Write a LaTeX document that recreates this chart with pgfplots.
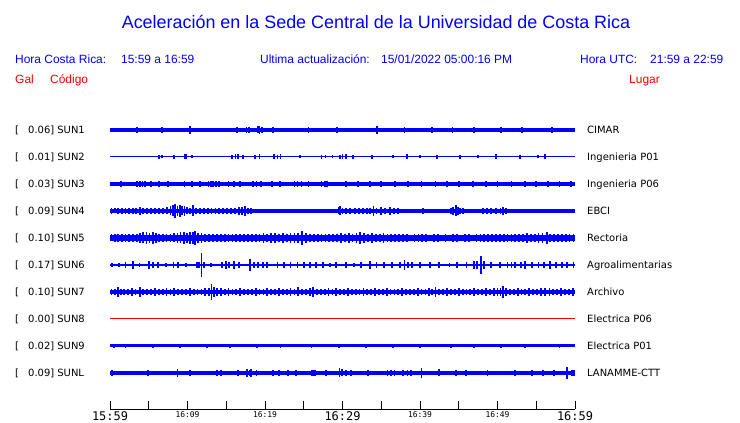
\documentclass[border=0pt]{standalone}
\usepackage{pgfplots}
\pgfplotsset{compat=1.18}
\usepackage{fontspec}
\setmainfont{Liberation Sans}
\newfontfamily\dvs{DejaVu Sans}
\newfontfamily\dvm{DejaVu Sans Mono}

\pgfplotsset{tr/.style={width=465bp, height=26bp, scale only axis, xmin=0, xmax=60, ymin=-13, ymax=13, hide axis, clip=false, anchor=west}}

\newcommand{\trace}[4]{%
\begin{axis}[tr, at={(110bp,#1bp)}]
\addplot[#3, line width=#2bp, mark=none] coordinates {(0,0) (60,0)};
\addplot[#3, draw=none, mark=none, forget plot, error bars/.cd, y dir=both, y explicit, error mark=none, error bar style={draw=#3, line width=1.8bp}] coordinates {#4};
\end{axis}}

\newcommand{\lab}[4]{%
\node[anchor=base west, inner sep=0pt, font=\dvs\fontsize{10}{12}\selectfont] at (15bp,#1bp) {[};
\node[anchor=base west, inner sep=0pt, font=\dvs\fontsize{10}{12}\selectfont] at (28bp,#1bp) {#2] #3};
\node[anchor=base west, inner sep=0pt, font=\dvs\fontsize{10}{12}\selectfont] at (587bp,#1bp) {#4};}

\begin{document}
\begin{tikzpicture}
\path[use as bounding box] (0,0) rectangle (740bp,423bp);

% header
\node[anchor=base, inner sep=0pt, text=blue, font=\fontsize{18}{20}\selectfont] at (376bp,394bp) {Aceleración en la Sede Central de la Universidad de Costa Rica};
\begin{scope}[every node/.style={anchor=base west, inner sep=0pt, font=\fontsize{12}{14}\selectfont}]
\node[text=blue] at (15bp,359bp) {Hora Costa Rica:};
\node[text=blue] at (121bp,359bp) {15:59 a 16:59};
\node[text=blue] at (260bp,359bp) {Ultima actualización:};
\node[text=blue] at (381bp,359bp) {15/01/2022 05:00:16 PM};
\node[text=blue] at (580bp,359bp) {Hora UTC:};
\node[text=blue] at (650bp,359bp) {21:59 a 22:59};
\node[text=red] at (15bp,339bp) {Gal};
\node[text=red] at (50bp,339bp) {Código};
\node[text=red] at (629bp,339bp) {Lugar};
\end{scope}

% labels
\lab{289.4}{0.06}{SUN1}{CIMAR}
\lab{262.4}{0.01}{SUN2}{Ingenieria P01}
\lab{235.4}{0.03}{SUN3}{Ingenieria P06}
\lab{208.4}{0.09}{SUN4}{EBCI}
\lab{181.4}{0.10}{SUN5}{Rectoria}
\lab{154.4}{0.17}{SUN6}{Agroalimentarias}
\lab{127.4}{0.10}{SUN7}{Archivo}
\lab{100.4}{0.00}{SUN8}{Electrica P06}
\lab{73.4}{0.02}{SUN9}{Electrica P01}
\lab{46.4}{0.09}{SUNL}{LANAMME-CTT}

% SUN1
\trace{293}{3.2}{blue}{(1.0,0) +- (0,2.2) (2.2,0) +- (0,2.2) (3.5,0) +- (0,2.6) (5.0,0) +- (0,2.2) (6.7,0) +- (0,3.2) (8.4,0) +- (0,2.2) (10.3,0) +- (0,3.8) (12.0,0) +- (0,2.2) (14.2,0) +- (0,2.2) (16.4,0) +- (0,2.6) (17.6,0) +- (0,2.8) (17.9,0) +- (0,2.6) (19.1,0) +- (0,3.5) (19.3,0) +- (0,4.2) (19.6,0) +- (0,3.0) (21.0,0) +- (0,2.6) (21.6,0) +- (0,2.4) (22.2,0) +- (0,2.4) (24.0,0) +- (0,2.2) (25.6,0) +- (0,2.6) (27.5,0) +- (0,2.2) (29.3,0) +- (0,2.6) (31.5,0) +- (0,2.2) (33.0,0) +- (0,2.4) (34.5,0) +- (0,3.6) (36.0,0) +- (0,2.4) (38.0,0) +- (0,2.6) (40.0,0) +- (0,2.2) (41.5,0) +- (0,2.6) (43.0,0) +- (0,2.4) (44.2,0) +- (0,2.6) (45.5,0) +- (0,2.2) (47.0,0) +- (0,3.0) (48.5,0) +- (0,2.4) (50.5,0) +- (0,2.6) (52.0,0) +- (0,2.2) (53.2,0) +- (0,2.6) (55.0,0) +- (0,2.2) (57.0,0) +- (0,3.0) (58.5,0) +- (0,2.4)}

% SUN2
\trace{266}{1.0}{blue}{(6.3,0) +- (0,2) (6.7,0) +- (0,1.5) (8.3,0) +- (0,2) (9.6,0) +- (0,2.5) (9.8,0) +- (0,2.5) (10.6,0) +- (0,1.5) (15.7,0) +- (0,2) (16.2,0) +- (0,2.5) (16.5,0) +- (0,2.5) (17.2,0) +- (0,2) (18.7,0) +- (0,2) (19.3,0) +- (0,2.5) (21.2,0) +- (0,2.5) (21.6,0) +- (0,2) (22.0,0) +- (0,2.5) (24.5,0) +- (0,1.5) (27.3,0) +- (0,2) (27.8,0) +- (0,1.5) (28.7,0) +- (0,1.5) (29.7,0) +- (0,2) (30.0,0) +- (0,2.5) (30.4,0) +- (0,2.5) (31.4,0) +- (0,2) (33.8,0) +- (0,2) (36.5,0) +- (0,1.5) (38.3,0) +- (0,2.5) (40.0,0) +- (0,1.5) (42.2,0) +- (0,2) (45.2,0) +- (0,2) (47.5,0) +- (0,1.5) (49.8,0) +- (0,2.5) (52.9,0) +- (0,2) (55.2,0) +- (0,1.5) (56.1,0) +- (0,2.5)}

% SUN3
\trace{239}{3.7}{blue}{(1.4,0) +- (0,2.6) (3.5,0) +- (0,2.6) (3.9,0) +- (0,2.8) (4.2,0) +- (0,2.6) (4.5,0) +- (0,2.6) (5.3,0) +- (0,2.8) (6.3,0) +- (0,2.6) (7.5,0) +- (0,2.6) (9.6,0) +- (0,2.6) (10.6,0) +- (0,2.6) (11.6,0) +- (0,2.6) (12.7,0) +- (0,2.8) (13.0,0) +- (0,3) (13.3,0) +- (0,3.2) (13.7,0) +- (0,3.2) (14.1,0) +- (0,3) (15.3,0) +- (0,2.6) (16.0,0) +- (0,2.8) (16.8,0) +- (0,2.6) (18.4,0) +- (0,2.6) (18.9,0) +- (0,2.8) (19.5,0) +- (0,2.6) (20.9,0) +- (0,2.6) (21.9,0) +- (0,2.8) (23.8,0) +- (0,2.6) (24.2,0) +- (0,2.8) (24.7,0) +- (0,2.6) (25.6,0) +- (0,2.8) (27.3,0) +- (0,2.6) (27.7,0) +- (0,3) (28.0,0) +- (0,2.8) (30.5,0) +- (0,2.6) (32.0,0) +- (0,2.6) (33.5,0) +- (0,2.8) (35.0,0) +- (0,2.6) (36.8,0) +- (0,2.6) (38.5,0) +- (0,2.8) (40.2,0) +- (0,2.6) (42.0,0) +- (0,2.6) (43.5,0) +- (0,2.8) (45.0,0) +- (0,2.6) (46.8,0) +- (0,2.6) (48.5,0) +- (0,2.8) (50.0,0) +- (0,2.6) (51.8,0) +- (0,2.6) (53.5,0) +- (0,2.6) (55.0,0) +- (0,2.8) (56.5,0) +- (0,2.6) (58.0,0) +- (0,2.6) (59.5,0) +- (0,2.6)}

% SUN4
\trace{212}{3.6}{blue}{(0.2,0) +- (0,3) (0.6,0) +- (0,2.5) (1.0,0) +- (0,3.2) (1.5,0) +- (0,2.8) (2.0,0) +- (0,3.4) (2.5,0) +- (0,2.6) (3.0,0) +- (0,3.2) (3.4,0) +- (0,2.8) (3.9,0) +- (0,3.6) (4.3,0) +- (0,3) (4.8,0) +- (0,2.6) (5.3,0) +- (0,3.2) (5.8,0) +- (0,2.8) (6.3,0) +- (0,2.6) (6.8,0) +- (0,3) (7.4,0) +- (0,3.5) (7.8,0) +- (0,4.5) (8.1,0) +- (0,5.5) (8.4,0) +- (0,7) (8.7,0) +- (0,5) (9.0,0) +- (0,6) (9.3,0) +- (0,4.5) (9.6,0) +- (0,5) (9.9,0) +- (0,3.5) (10.3,0) +- (0,3) (10.7,0) +- (0,5.5) (11.1,0) +- (0,3.2) (11.6,0) +- (0,2.8) (12.1,0) +- (0,3) (12.6,0) +- (0,2.6) (13.1,0) +- (0,2.8) (13.6,0) +- (0,3) (14.1,0) +- (0,3.2) (14.6,0) +- (0,2.8) (15.1,0) +- (0,3.4) (15.6,0) +- (0,3) (16.1,0) +- (0,3.4) (16.6,0) +- (0,3.6) (17.0,0) +- (0,3.8) (17.4,0) +- (0,5) (17.8,0) +- (0,3.2) (18.2,0) +- (0,2.8) (20.6,0) +- (0,2.4) (22.4,0) +- (0,2.4) (25.5,0) +- (0,2.4) (28.5,0) +- (0,2.4) (29.5,0) +- (0,3.5) (29.7,0) +- (0,4.5) (30.0,0) +- (0,3.2) (30.5,0) +- (0,3) (31.0,0) +- (0,2.8) (31.6,0) +- (0,3) (32.1,0) +- (0,2.6) (32.6,0) +- (0,3) (33.2,0) +- (0,3.2) (33.6,0) +- (0,3) (34.0,0) +- (0,5) (34.4,0) +- (0,3) (35.0,0) +- (0,4) (35.5,0) +- (0,3.2) (36.1,0) +- (0,4) (36.6,0) +- (0,3) (37.2,0) +- (0,2.6) (40.4,0) +- (0,2.6) (43.0,0) +- (0,2.4) (44.0,0) +- (0,3) (44.3,0) +- (0,4) (44.6,0) +- (0,5.5) (44.9,0) +- (0,4) (45.2,0) +- (0,3) (45.6,0) +- (0,2.6) (48.1,0) +- (0,2.6) (48.6,0) +- (0,2.8) (49.2,0) +- (0,2.6) (49.8,0) +- (0,2.8) (50.4,0) +- (0,3) (50.7,0) +- (0,3.6) (51.1,0) +- (0,2.8) (53.5,0) +- (0,2.4) (57.8,0) +- (0,2.4)}

% SUN5
\trace{185}{5.2}{blue}{(0.2,0) +- (0,3.5) (0.6,0) +- (0,4) (1.0,0) +- (0,3.6) (1.5,0) +- (0,4.2) (2.0,0) +- (0,3.8) (2.5,0) +- (0,4) (3.0,0) +- (0,3.6) (3.5,0) +- (0,4.4) (3.9,0) +- (0,5) (4.3,0) +- (0,5.5) (4.7,0) +- (0,6) (5.1,0) +- (0,5.2) (5.5,0) +- (0,5.8) (5.9,0) +- (0,5) (6.3,0) +- (0,4.4) (6.8,0) +- (0,4) (7.3,0) +- (0,3.8) (7.8,0) +- (0,4.2) (8.3,0) +- (0,4.5) (8.7,0) +- (0,5) (9.1,0) +- (0,5.5) (9.5,0) +- (0,6) (9.9,0) +- (0,5.2) (10.3,0) +- (0,5.6) (10.7,0) +- (0,6.2) (11.0,0) +- (0,7) (11.4,0) +- (0,5.2) (11.8,0) +- (0,4.6) (12.3,0) +- (0,4) (12.8,0) +- (0,3.6) (13.3,0) +- (0,4) (13.8,0) +- (0,3.6) (14.3,0) +- (0,4.2) (14.8,0) +- (0,3.6) (15.3,0) +- (0,4) (15.8,0) +- (0,3.6) (16.3,0) +- (0,3.8) (16.8,0) +- (0,3.6) (17.3,0) +- (0,4) (17.8,0) +- (0,3.6) (18.3,0) +- (0,3.8) (18.8,0) +- (0,4) (19.3,0) +- (0,4.4) (19.8,0) +- (0,4.8) (20.3,0) +- (0,4.4) (20.8,0) +- (0,5) (21.3,0) +- (0,4.6) (21.8,0) +- (0,4.4) (22.3,0) +- (0,4.8) (22.8,0) +- (0,4.2) (23.3,0) +- (0,4.6) (23.8,0) +- (0,5) (24.3,0) +- (0,4.6) (24.8,0) +- (0,7) (25.3,0) +- (0,4.6) (25.8,0) +- (0,4.2) (26.3,0) +- (0,4.4) (26.8,0) +- (0,4) (27.3,0) +- (0,4.4) (27.8,0) +- (0,4) (28.3,0) +- (0,4.4) (28.8,0) +- (0,4) (29.3,0) +- (0,4.4) (29.8,0) +- (0,4.6) (30.3,0) +- (0,4.2) (30.8,0) +- (0,4.8) (31.3,0) +- (0,4.4) (31.8,0) +- (0,5) (32.3,0) +- (0,6) (32.8,0) +- (0,4.6) (33.3,0) +- (0,4.2) (33.8,0) +- (0,4.6) (34.3,0) +- (0,4.4) (34.8,0) +- (0,4) (35.3,0) +- (0,4.6) (35.8,0) +- (0,4.2) (36.3,0) +- (0,3.8) (36.8,0) +- (0,3.6) (37.3,0) +- (0,4) (37.8,0) +- (0,3.6) (38.3,0) +- (0,3.8) (38.8,0) +- (0,3.4) (39.3,0) +- (0,3.8) (39.8,0) +- (0,3.6) (40.3,0) +- (0,4) (40.8,0) +- (0,3.6) (41.3,0) +- (0,3.4) (41.8,0) +- (0,3.8) (42.3,0) +- (0,3.6) (42.8,0) +- (0,3.4) (43.3,0) +- (0,3.6) (43.8,0) +- (0,3.4) (44.3,0) +- (0,3.8) (44.8,0) +- (0,3.6) (45.3,0) +- (0,3.4) (45.8,0) +- (0,3.8) (46.3,0) +- (0,3.6) (46.8,0) +- (0,3.4) (47.3,0) +- (0,3.6) (47.8,0) +- (0,4) (48.3,0) +- (0,4.2) (48.8,0) +- (0,4.4) (49.3,0) +- (0,4) (49.8,0) +- (0,4.4) (50.3,0) +- (0,4.2) (50.8,0) +- (0,4) (51.3,0) +- (0,4.4) (51.8,0) +- (0,4.2) (52.3,0) +- (0,4) (52.8,0) +- (0,4.4) (53.3,0) +- (0,4.2) (53.8,0) +- (0,4.6) (54.3,0) +- (0,4.4) (54.8,0) +- (0,4.2) (55.3,0) +- (0,4.6) (55.8,0) +- (0,5) (56.4,0) +- (0,6.2) (56.8,0) +- (0,4.4) (57.3,0) +- (0,4.2) (57.8,0) +- (0,4) (58.3,0) +- (0,4.4) (58.8,0) +- (0,4.2) (59.3,0) +- (0,4) (59.8,0) +- (0,4.2)}

% SUN6
\trace{158}{2.8}{blue}{(0.3,0) +- (0,2.4) (1.2,0) +- (0,2.2) (2.0,0) +- (0,2.6) (3.0,0) +- (0,4) (3.8,0) +- (0,2.4) (5.0,0) +- (0,4) (5.5,0) +- (0,2.6) (6.2,0) +- (0,2.6) (7.2,0) +- (0,2.4) (8.2,0) +- (0,2.6) (8.8,0) +- (0,2.6) (9.8,0) +- (0,2.2) (11.2,0) +- (0,3) (11.5,0) +- (0,3.2) (11.8,0) +- (0,12) (12.1,0) +- (0,3) (13.0,0) +- (0,2.4) (14.5,0) +- (0,3.4) (15.0,0) +- (0,3.6) (15.4,0) +- (0,3.2) (16.0,0) +- (0,3.6) (16.6,0) +- (0,3.4) (18.1,0) +- (0,6) (18.6,0) +- (0,3) (19.1,0) +- (0,3.2) (19.7,0) +- (0,3) (20.3,0) +- (0,2.6) (21.6,0) +- (0,2.6) (22.5,0) +- (0,3) (23.3,0) +- (0,2.8) (24.2,0) +- (0,2.6) (25.0,0) +- (0,3) (25.8,0) +- (0,2.6) (26.6,0) +- (0,3) (27.5,0) +- (0,2.6) (28.4,0) +- (0,2.4) (29.2,0) +- (0,2.6) (30.5,0) +- (0,2.6) (31.5,0) +- (0,2.4) (32.4,0) +- (0,2.6) (33.5,0) +- (0,4) (34.4,0) +- (0,2.6) (35.4,0) +- (0,2.6) (36.4,0) +- (0,2.8) (37.4,0) +- (0,3) (38.0,0) +- (0,5) (38.5,0) +- (0,3.4) (39.0,0) +- (0,3.4) (40.0,0) +- (0,2.6) (41.3,0) +- (0,3) (42.5,0) +- (0,2.6) (43.8,0) +- (0,2.4) (44.8,0) +- (0,2.6) (46.0,0) +- (0,2.6) (47.0,0) +- (0,3.6) (47.4,0) +- (0,4) (47.9,0) +- (0,9) (48.3,0) +- (0,3.6) (49.2,0) +- (0,2.6) (50.3,0) +- (0,2.6) (51.3,0) +- (0,3) (51.8,0) +- (0,3) (52.3,0) +- (0,3) (53.0,0) +- (0,2.6) (53.6,0) +- (0,4) (54.5,0) +- (0,2.6) (55.3,0) +- (0,3) (56.0,0) +- (0,3) (56.8,0) +- (0,3.6) (57.5,0) +- (0,2.6) (58.3,0) +- (0,2.6) (59.0,0) +- (0,2.8) (59.8,0) +- (0,2.6)}

% SUN7
\trace{131}{4.0}{blue}{(0.2,0) +- (0,3) (0.6,0) +- (0,3.4) (1.0,0) +- (0,5) (1.4,0) +- (0,3) (1.8,0) +- (0,3.4) (2.3,0) +- (0,3) (2.8,0) +- (0,3.6) (3.3,0) +- (0,3.2) (3.9,0) +- (0,5) (4.3,0) +- (0,3.4) (4.8,0) +- (0,3) (5.3,0) +- (0,3.4) (5.8,0) +- (0,3.6) (6.3,0) +- (0,3.2) (6.8,0) +- (0,3.4) (7.3,0) +- (0,3.8) (7.8,0) +- (0,3.2) (8.3,0) +- (0,3.6) (8.8,0) +- (0,3.2) (9.3,0) +- (0,3.4) (9.8,0) +- (0,3.2) (10.3,0) +- (0,3.6) (10.8,0) +- (0,3.2) (11.3,0) +- (0,3.4) (11.8,0) +- (0,3.2) (12.3,0) +- (0,3.6) (12.8,0) +- (0,4.4) (13.1,0) +- (0,8) (13.4,0) +- (0,5) (13.8,0) +- (0,4) (14.3,0) +- (0,3.6) (14.8,0) +- (0,3.2) (15.3,0) +- (0,3.6) (15.8,0) +- (0,3.4) (16.3,0) +- (0,3.2) (16.8,0) +- (0,3.6) (17.3,0) +- (0,3.2) (17.8,0) +- (0,3.4) (18.3,0) +- (0,3.2) (18.8,0) +- (0,3.6) (19.3,0) +- (0,3.4) (19.8,0) +- (0,3.2) (20.3,0) +- (0,3.6) (20.8,0) +- (0,3.2) (21.3,0) +- (0,3.4) (21.8,0) +- (0,3.6) (22.3,0) +- (0,3.2) (22.8,0) +- (0,3.4) (23.3,0) +- (0,3.6) (23.8,0) +- (0,3.2) (24.3,0) +- (0,4.5) (24.8,0) +- (0,3.4) (25.3,0) +- (0,3.2) (25.8,0) +- (0,3.6) (26.2,0) +- (0,5) (26.7,0) +- (0,3.4) (27.2,0) +- (0,3.2) (27.7,0) +- (0,3.4) (28.2,0) +- (0,3.6) (28.7,0) +- (0,3.2) (29.2,0) +- (0,4) (29.7,0) +- (0,3.4) (30.2,0) +- (0,3.2) (30.7,0) +- (0,3.6) (31.2,0) +- (0,3.2) (31.7,0) +- (0,3.4) (32.2,0) +- (0,3.2) (32.7,0) +- (0,3.6) (33.2,0) +- (0,3.4) (33.7,0) +- (0,3.2) (34.2,0) +- (0,3.6) (34.7,0) +- (0,3.2) (35.2,0) +- (0,3.4) (35.7,0) +- (0,3.6) (36.2,0) +- (0,3.2) (36.7,0) +- (0,3.4) (37.2,0) +- (0,3.2) (37.7,0) +- (0,3.6) (38.2,0) +- (0,3.4) (38.7,0) +- (0,3.2) (39.2,0) +- (0,3.4) (39.7,0) +- (0,3.6) (40.2,0) +- (0,3.2) (40.7,0) +- (0,3.4) (41.2,0) +- (0,3.6) (41.6,0) +- (0,3.2) (42.0,0) +- (0,5) (42.5,0) +- (0,3.4) (43.0,0) +- (0,3.2) (43.5,0) +- (0,3.6) (44.0,0) +- (0,3.2) (44.5,0) +- (0,3.4) (45.0,0) +- (0,3.6) (45.5,0) +- (0,3.2) (46.0,0) +- (0,3.4) (46.5,0) +- (0,3.2) (47.0,0) +- (0,3.6) (47.5,0) +- (0,3.4) (48.0,0) +- (0,3.2) (48.5,0) +- (0,3.6) (49.0,0) +- (0,3.4) (49.5,0) +- (0,3.6) (50.0,0) +- (0,4) (50.4,0) +- (0,4.4) (50.7,0) +- (0,6) (51.1,0) +- (0,4) (51.6,0) +- (0,3.4) (52.1,0) +- (0,3.2) (52.6,0) +- (0,3.6) (53.1,0) +- (0,3.4) (53.6,0) +- (0,3.2) (54.1,0) +- (0,3.6) (54.6,0) +- (0,3.4) (55.1,0) +- (0,3.2) (55.6,0) +- (0,3.6) (56.1,0) +- (0,3.8) (56.7,0) +- (0,4.2) (57.2,0) +- (0,3.4) (57.7,0) +- (0,3.2) (58.2,0) +- (0,3.6) (58.7,0) +- (0,3.4) (59.2,0) +- (0,3.2) (59.7,0) +- (0,3.6)}

% SUN8
\begin{axis}[tr, at={(110bp,104bp)}]
\addplot[red, line width=1bp, mark=none] coordinates {(0,0) (60,0)};
\end{axis}

% SUN9
\trace{77}{3.0}{blue}{(0.5,0) +- (0,2.2) (2.0,0) +- (0,2) (5.5,0) +- (0,2.2) (9.0,0) +- (0,2) (12.5,0) +- (0,2.2) (15.5,0) +- (0,2) (19.0,0) +- (0,2.2) (22.0,0) +- (0,2) (26.0,0) +- (0,2.2) (29.5,0) +- (0,2) (33.0,0) +- (0,2.2) (36.5,0) +- (0,2) (40.0,0) +- (0,2.2) (44.0,0) +- (0,2) (47.0,0) +- (0,2.2) (50.5,0) +- (0,2) (53.5,0) +- (0,2.2) (58.0,0) +- (0,2.2)}

% SUNL
\trace{50}{3.4}{blue}{(0.3,0) +- (0,3) (4.9,0) +- (0,2.6) (8.7,0) +- (0,4) (10.3,0) +- (0,2.6) (13.8,0) +- (0,3.4) (14.3,0) +- (0,3.4) (16.5,0) +- (0,3) (17.7,0) +- (0,4) (18.0,0) +- (0,3.4) (18.2,0) +- (0,4) (18.9,0) +- (0,3) (21.0,0) +- (0,3) (21.8,0) +- (0,3) (23.0,0) +- (0,3) (24.0,0) +- (0,3) (26.0,0) +- (0,3) (26.2,0) +- (0,3) (26.4,0) +- (0,3) (27.9,0) +- (0,2.6) (29.6,0) +- (0,4.5) (29.9,0) +- (0,3.5) (30.5,0) +- (0,3) (31.1,0) +- (0,3) (33.3,0) +- (0,2.6) (35.8,0) +- (0,2.6) (36.3,0) +- (0,2.6) (36.7,0) +- (0,2.6) (37.8,0) +- (0,2.6) (38.4,0) +- (0,3) (38.8,0) +- (0,3) (40.2,0) +- (0,5) (42.5,0) +- (0,3.5) (44.6,0) +- (0,2.6) (45.9,0) +- (0,3) (48.7,0) +- (0,2.6) (52.3,0) +- (0,3) (54.5,0) +- (0,3) (55.9,0) +- (0,3) (57.3,0) +- (0,3) (59.0,0) +- (0,6) (59.6,0) +- (0,3) (59.9,0) +- (0,3)}

% time axis
\begin{axis}[width=465bp, height=20bp, scale only axis, at={(110bp,14bp)}, anchor=south west,
  xmin=0, xmax=60, ymin=0, ymax=1, axis x line*=bottom, axis y line=none,
  axis line style={black, line width=0.8bp}, tick style={black, line width=0.8bp},
  major tick length=8bp, tick align=inside,
  xtick={5,10,...,55}, xticklabels={,\mbox{16:09},,\mbox{16:19},,,,\mbox{16:39},,\mbox{16:49},},
  xticklabel style={anchor=north, inner sep=0pt, text depth=0pt, yshift=-2.5bp, font=\dvm\fontsize{8}{9}\selectfont},
  extra x ticks={0,30,60}, extra x tick labels={\mbox{15:59},\mbox{16:29},\mbox{16:59}},
  extra x tick style={xticklabel style={anchor=north, inner sep=0pt, text depth=0pt, yshift=0bp, font=\dvm\fontsize{12}{13}\selectfont}}]
\addplot[draw=none] coordinates {(0,0) (60,0)};
\end{axis}
\end{tikzpicture}
\end{document}
